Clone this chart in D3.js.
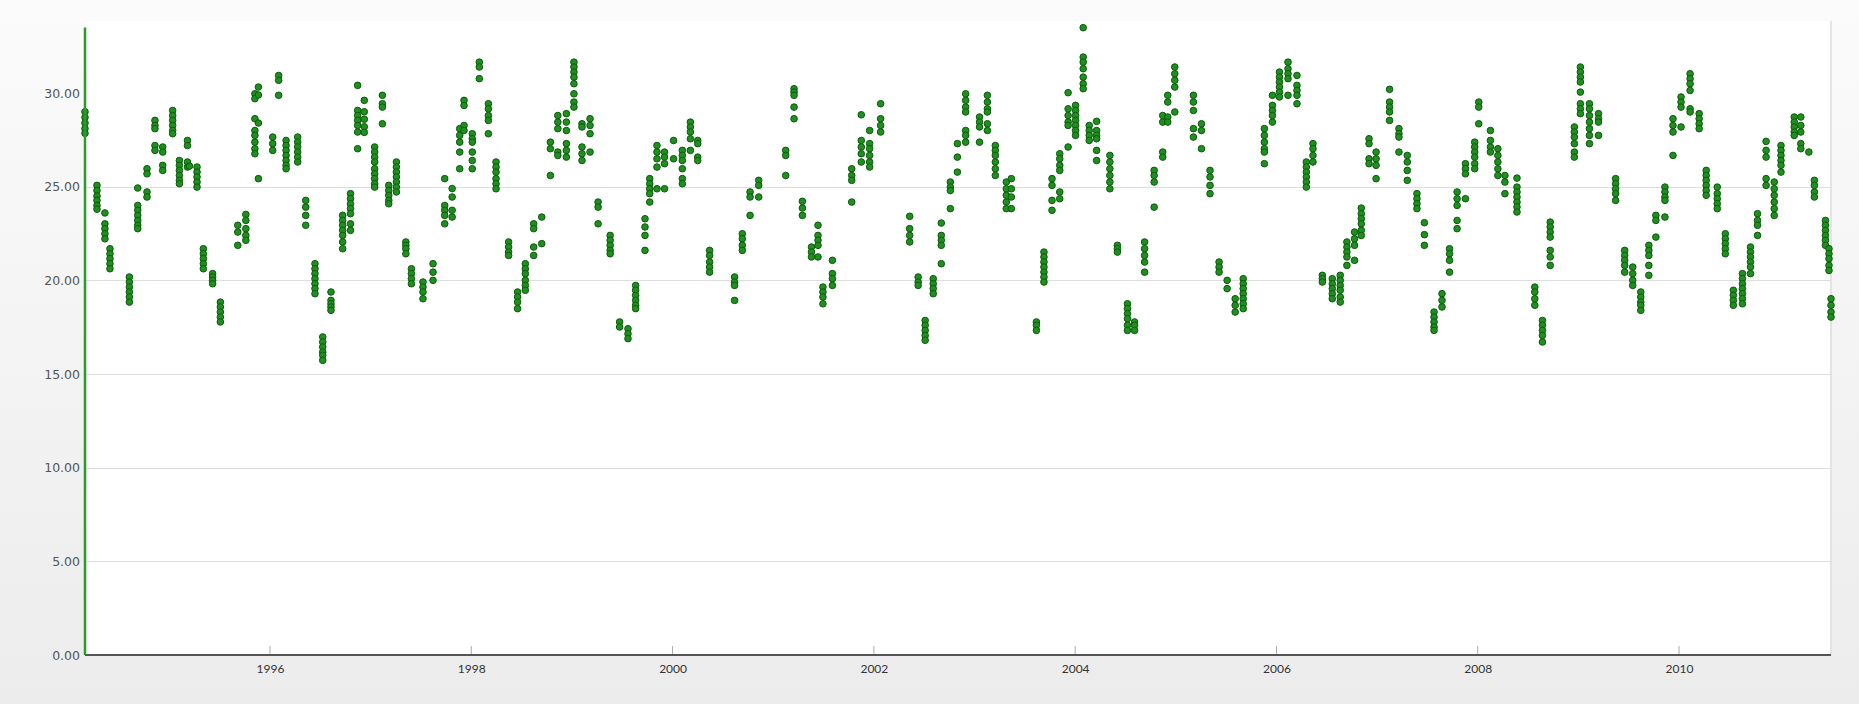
<!DOCTYPE html>
<html><head><meta charset="utf-8">
<script src="https://cdn.jsdelivr.net/npm/d3@7/dist/d3.min.js"></script>
<style>html,body{margin:0;padding:0;background:#f2f2f2;overflow:hidden}</style>
</head><body><svg id="chart" width="1859" height="704"></svg>
<script>
// Decimal year of each sampling cluster
const sampleYears = [
 1994.162,1994.281,1994.36,1994.41,1994.603,1994.686,1994.778,1994.857,1994.934,1995.033,
 1995.1,1995.18,1995.2,1995.275,1995.338,1995.43,1995.507,1995.68,1995.76,1995.85,
 1995.885,1996.027,1996.086,1996.16,1996.275,1996.355,1996.447,1996.524,1996.606,1996.722,
 1996.8,1996.871,1996.937,1997.04,1997.117,1997.18,1997.256,1997.35,1997.405,1997.52,
 1997.62,1997.736,1997.81,1997.885,1997.928,1998.01,1998.08,1998.17,1998.246,1998.371,
 1998.46,1998.537,1998.62,1998.70,1998.786,1998.86,1998.945,1999.02,1999.1,1999.18,
 1999.26,1999.38,1999.474,1999.557,1999.633,1999.726,1999.773,1999.845,1999.92,2000.01,
 2000.097,2000.177,2000.25,2000.368,2000.616,2000.693,2000.77,2000.856,2001.124,2001.207,
 2001.29,2001.38,2001.445,2001.494,2001.588,2001.78,2001.875,2001.958,2002.067,2002.356,
 2002.44,2002.51,2002.59,2002.67,2002.76,2002.83,2002.912,2003.05,2003.128,2003.207,
 2003.316,2003.366,2003.615,2003.69,2003.77,2003.847,2003.93,2004.004,2004.08,2004.14,
 2004.213,2004.345,2004.42,2004.52,2004.59,2004.69,2004.785,2004.87,2004.92,2004.99,
 2005.175,2005.255,2005.34,2005.43,2005.51,2005.59,2005.67,2005.88,2005.96,2006.03,
 2006.115,2006.204,2006.297,2006.363,2006.456,2006.555,2006.634,2006.7,2006.776,2006.843,
 2006.92,2006.99,2007.124,2007.217,2007.3,2007.396,2007.47,2007.566,2007.645,2007.72,
 2007.795,2007.878,2007.97,2008.01,2008.126,2008.2,2008.27,2008.39,2008.567,2008.643,
 2008.72,2008.96,2009.02,2009.11,2009.2,2009.37,2009.46,2009.54,2009.62,2009.7,
 2009.77,2009.86,2009.94,2010.02,2010.11,2010.2,2010.27,2010.38,2010.46,2010.54,
 2010.63,2010.71,2010.78,2010.865,2010.946,2011.013,2011.145,2011.21,2011.29,2011.345,
 2011.455,2011.49,2011.51
];
// Values measured in each cluster
const sampleValues = [
 [29.0,28.7,28.4,28.1,27.85],[25.07,24.8,24.5,24.27,24.0,23.8],[23.6,23.02,22.76,22.49,22.22],[21.69,21.42,21.16,20.89,20.62],
 [20.18,19.91,19.64,19.38,19.11,18.84],[24.93,24.0,23.74,23.47,23.2,22.94,22.76],[25.96,25.69,24.72,24.45],[28.54,28.27,28.1,27.2,26.94],
 [27.12,26.85,26.14,25.87],[29.07,28.8,28.54,28.27,28.0,27.83],
 [26.4,26.14,25.87,25.6,25.34,25.16],[27.47,27.2,26.32,26.05],[26.1],[26.05,25.78,25.52,25.25,24.98],[21.69,21.42,21.16,20.89,20.62],
 [20.36,20.18,20.0,19.82],[18.84,18.58,18.31,18.04,17.78],[22.94,22.58,21.87],[23.52,23.2,22.76,22.4,22.14],
 [29.96,29.7,28.63,28.0,27.74,27.38,27.03,26.76],
 [30.32,29.9,28.4,25.43],[27.65,27.3,26.94],[30.94,30.68,29.88],[27.47,27.2,26.94,26.67,26.4,26.14,25.96],
 [27.65,27.38,27.12,26.85,26.58,26.32],[24.27,23.91,23.47,22.94],[20.89,20.62,20.36,20.09,19.82,19.56,19.29],
 [16.98,16.71,16.44,16.17,16.0,15.73],[19.38,18.93,18.75,18.58,18.4],[23.47,23.2,22.94,22.67,22.4,22.05,21.69],
 [24.63,24.36,24.09,23.83,23.56,23.02,22.67],[30.41,29.07,28.8,28.54,28.27,27.92,27.03],[29.61,29.0,28.6,28.2,27.9],
 [27.12,26.85,26.58,26.32,25.96,25.69,25.43,25.16,24.98],[29.88,29.43,29.25,28.36],[25.07,24.8,24.54,24.27,24.09],
 [26.32,26.05,25.78,25.52,25.25,24.98,24.72],[22.05,21.87,21.69,21.42],[20.62,20.36,20.09,19.82],[19.91,19.64,19.38,19.02],
 [20.89,20.44,20.0],[25.43,24.0,23.74,23.47,23.02],[24.9,24.45,23.74,23.38],[28.1,27.74,27.38,26.85,25.96],
 [29.61,29.34,28.27,28.0],[27.83,27.56,27.38,26.85,26.4,25.96],[31.65,31.39,30.77],[29.43,29.16,28.8,28.54,27.83],
 [26.32,26.05,25.78,25.43,25.16,24.89],[22.05,21.78,21.51,21.33],
 [19.38,19.11,18.84,18.49],[20.89,20.62,20.36,20.0,19.73,19.47],[23.02,22.76,21.78,21.33],[23.38,21.96],[27.38,27.03,25.6],
 [28.8,28.45,28.1,26.85,26.67],[28.9,28.45,28.0,27.3,26.94,26.58],[31.65,31.39,31.12,30.85,30.5,29.96,29.52,29.25],
 [28.36,28.19,27.12,26.76,26.4],[28.63,28.27,27.83,26.85],
 [24.18,23.91,23.02],[22.4,22.14,21.87,21.6,21.42],[17.78,17.51],[17.42,17.15,16.89],[19.73,19.47,19.2,18.93,18.67,18.49],
 [23.29,22.85,22.4,21.6],[25.43,25.16,24.89,24.63,24.18],[27.2,26.85,26.49,26.05,24.89],[26.85,26.58,26.23,24.89],[27.47,26.49],
 [26.94,26.67,26.4,25.96,25.43,25.16],[28.45,28.19,27.92,27.56,26.94],[27.47,27.3,26.58,26.4],[21.6,21.33,20.98,20.71,20.44],
 [20.18,19.91,19.73,18.93],[22.49,22.22,21.87,21.6],[24.72,24.45,23.47],[25.34,25.07,24.45],[26.94,26.67,25.6],
 [30.23,30.05,29.88,29.25,28.63],
 [24.22,23.86,23.47],[21.78,21.51,21.25],[22.94,22.4,22.14,21.87,21.25],[19.64,19.38,19.11,18.75],[21.07,20.36,20.09,19.73],
 [25.96,25.6,25.34,24.18],[28.84,27.47,27.12,26.76,26.32],[28.0,27.3,27.03,26.67,26.32,26.05],[29.43,28.63,28.27,27.92],
 [23.42,22.76,22.4,22.05],
 [20.18,19.91,19.73],[17.86,17.6,17.33,17.06,16.8],[20.09,19.82,19.56,19.29],[23.06,22.4,22.14,21.87,20.89],[25.25,24.98,24.8,23.83],
 [27.3,26.58,25.78],[29.96,29.61,29.25,28.99,28.0,27.74,27.38],[28.72,28.45,28.19,27.38],[29.88,29.52,29.16,28.99,28.36,28.0],
 [27.2,26.94,26.67,26.32,25.96,25.6],
 [25.25,24.89,24.54,24.18,23.83],[25.43,24.89,24.45,23.83],[17.78,17.6,17.33],[21.51,21.25,20.98,20.71,20.44,20.18,19.91],
 [25.43,25.07,24.27,23.74],[26.76,26.49,26.14,25.87,24.72,24.36],[30.02,29.16,28.8,28.45,28.27,27.12],
 [29.34,29.07,28.8,28.54,28.27,28.0,27.74],[33.49,31.92,31.65,31.3,30.85,30.5,30.23],[28.27,28.0,27.74,27.47],
 [28.49,28.0,27.74,27.56,26.94,26.4],[26.67,26.32,25.96,25.6,25.25,24.89],[21.87,21.69,21.51],[18.75,18.49,18.22,17.95,17.6,17.33],
 [17.78,17.6,17.33],[22.05,21.69,21.33,20.98,20.44],[25.87,25.6,25.25,23.91],[28.8,28.45,26.85,26.58],[29.88,29.52,28.72,28.45],
 [31.39,31.03,30.68,30.32,28.99],
 [29.88,29.52,29.07,28.1,27.65],[28.36,28.0,27.03],[25.87,25.52,25.07,24.63],[20.98,20.71,20.44],[20.0,19.56],[19.02,18.67,18.31],
 [20.09,19.82,19.56,19.29,19.02,18.75,18.49],[28.1,27.74,27.38,27.03,26.85,26.23],[29.88,29.34,29.07,28.8,28.45],
 [31.12,30.85,30.59,30.32,30.05,29.79],
 [31.65,31.3,31.03,30.77,29.88],[30.94,30.41,30.14,29.88,29.43],[26.32,26.05,25.78,25.52,25.25,24.98],[27.3,27.03,26.67,26.32],
 [20.27,20.09,19.91],[20.09,19.82,19.56,19.29,19.02],[20.27,20.0,19.73,19.47,19.11,18.84],[22.05,21.78,21.51,21.25,20.8],
 [22.58,22.22,21.87,21.07],[23.86,23.56,23.29,23.02,22.67,22.4],
 [27.56,27.3,26.49,26.23],[26.85,26.49,26.14,25.43],[30.2,29.52,29.25,28.99,28.54],[28.1,27.83,27.65,26.85],[26.67,26.32,25.87,25.34],
 [24.63,24.36,24.09,23.83],[23.08,22.44,21.87],[18.31,18.04,17.78,17.51,17.33],[19.29,18.93,18.58],[21.69,21.42,21.07,20.44],
 [24.72,24.36,24.0,23.2,22.76],[26.23,25.96,25.69,24.36],[27.38,27.12,26.85,26.58,26.23,25.96],[29.52,29.25,28.36],
 [28.0,27.47,27.12,26.85],[27.03,26.67,26.32,25.96,25.6],[25.6,25.25,24.63],[25.46,24.98,24.72,24.45,24.18,23.92,23.65],
 [19.64,19.38,19.02,18.67],[17.86,17.6,17.33,17.06,16.71],
 [23.11,22.85,22.58,22.31,21.6,21.25,20.8],[28.19,27.92,27.65,27.3,26.85,26.58],[31.39,31.12,30.85,30.59,30.05,29.43,29.16,28.9],
 [29.43,29.16,28.8,28.45,28.1,27.74,27.3],[28.9,28.63,28.45,27.74],[25.43,25.16,24.89,24.63,24.27],[21.6,21.33,21.07,20.8,20.44],
 [20.71,20.36,20.0,19.73],[19.38,19.11,18.84,18.67,18.4],[21.87,21.6,21.33,20.8,20.27],
 [23.47,23.2,22.31],[24.98,24.72,24.45,24.27,23.38],[28.63,28.27,27.92,26.67],[29.79,29.52,29.25,28.19],
 [31.03,30.77,30.5,30.14,29.16,28.99],[28.9,28.63,28.36,28.1],[25.87,25.6,25.34,25.07,24.8,24.54],[24.98,24.63,24.36,24.09,23.83],
 [22.49,22.22,21.96,21.69,21.42],[19.47,19.2,18.93,18.67],
 [20.36,20.09,19.82,19.56,19.29,19.02,18.75],[21.78,21.51,21.25,20.98,20.71,20.36],[23.56,23.2,22.94,22.4],
 [27.42,26.94,26.58,25.43,25.07],[25.25,24.89,24.54,24.18,23.83,23.47],[27.2,26.94,26.67,26.4,26.14,25.78],
 [28.72,28.45,28.19,27.92,27.74],[28.72,28.27,27.92,27.3,27.03],[26.85],[25.34,25.07,24.72,24.45],
 [23.2,22.94,22.67,22.4,22.14,21.87],[21.69,21.42,21.16,20.8,20.53],[19.02,18.67,18.31,18.04]
];
const yTickValues = [0, 5, 10, 15, 20, 25, 30];
const yTickLabels = ["0.00", "5.00", "10.00", "15.00", "20.00", "25.00", "30.00"];
const gridValues = [5, 10, 15, 20, 25];
const xTickValues = [1996, 1998, 2000, 2002, 2004, 2006, 2008, 2010];
const xTickLabels = ["1996", "1998", "2000", "2002", "2004", "2006", "2008", "2010"];
const xDomain = [1994.162, 2011.51];
const yDomain = [0, 33.5];

const W = 1859, H = 704;
const m = {left: 85, right: 1831, top: 27.5, bottom: 655};
const svg = d3.select("#chart");

const defs = svg.append("defs");
const bg = defs.append("linearGradient").attr("id", "bg").attr("x1", 0).attr("y1", 0).attr("x2", 0).attr("y2", 1);
bg.append("stop").attr("offset", "0%").attr("stop-color", "#fbfbfb");
bg.append("stop").attr("offset", "100%").attr("stop-color", "#ececec");
svg.append("rect").attr("width", W).attr("height", H).attr("fill", "url(#bg)");

const x = d3.scaleLinear().domain(xDomain).range([m.left, m.right]);
const y = d3.scaleLinear().domain(yDomain).range([m.bottom, m.top]);

// plot area
svg.append("rect").attr("x", m.left).attr("y", 21).attr("width", m.right - m.left).attr("height", m.bottom - 21)
  .attr("fill", "#ffffff");
svg.append("line").attr("x1", m.right).attr("x2", m.right).attr("y1", 21).attr("y2", m.bottom)
  .attr("stroke", "#dcdcdc").attr("stroke-width", 1.5);

// gridlines
svg.append("g").selectAll("line").data(gridValues).join("line")
  .attr("x1", m.left).attr("x2", m.right)
  .attr("y1", d => Math.round(y(d)) + 0.5).attr("y2", d => Math.round(y(d)) + 0.5)
  .attr("stroke", "#dedede").attr("stroke-width", 1);

// y axis labels
const yAxis = d3.axisLeft(y).tickValues(yTickValues).tickSize(0).tickPadding(4)
  .tickFormat((d, i) => yTickLabels[i]);
const gy = svg.append("g").attr("transform", `translate(${m.left - 1},0)`).call(yAxis);
gy.select(".domain").remove();
gy.selectAll("text").attr("font-family", "DejaVu Sans, Verdana, sans-serif").attr("font-size", 12.5)
  .attr("fill", "#555");

// x axis
const xAxis = d3.axisBottom(x).tickValues(xTickValues).tickSize(0).tickPadding(9)
  .tickFormat((d, i) => xTickLabels[i]);
const gx = svg.append("g").attr("transform", `translate(0,${m.bottom})`).call(xAxis);
gx.select(".domain").remove();
gx.selectAll("text").attr("font-family", "Lato, 'Open Sans', sans-serif").attr("font-size", 12)
  .attr("fill", "#333");
svg.append("g").selectAll("line").data(xTickValues).join("line")
  .attr("x1", d => x(d)).attr("x2", d => x(d)).attr("y1", m.bottom - 9).attr("y2", m.bottom)
  .attr("stroke", "#aaa").attr("stroke-width", 1);
svg.append("line").attr("x1", m.left).attr("x2", m.right).attr("y1", m.bottom).attr("y2", m.bottom)
  .attr("stroke", "#555").attr("stroke-width", 2);

// points
const points = [];
sampleYears.forEach((yr, i) => sampleValues[i].forEach(v => points.push({yr, v})));
svg.append("g").selectAll("circle").data(points).join("circle")
  .attr("cx", d => x(d.yr)).attr("cy", d => y(d.v)).attr("r", 3.3)
  .attr("fill", "#1f8f1f").attr("stroke", "#0c5a0c").attr("stroke-width", 1);

// y axis line (green)
svg.append("line").attr("x1", m.left).attr("x2", m.left).attr("y1", m.top).attr("y2", m.bottom)
  .attr("stroke", "#2a9a2a").attr("stroke-width", 2.5);
</script></body></html>
